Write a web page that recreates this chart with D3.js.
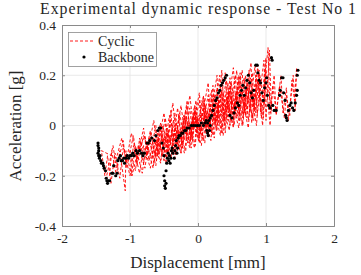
<!DOCTYPE html>
<html>
<head>
<meta charset="utf-8">
<script src="https://cdn.jsdelivr.net/npm/d3@7"></script>
<style>
body { margin: 0; background: #fff; }
text { font-family: "Liberation Serif", "DejaVu Serif", serif; fill: #262626; }
</style>
</head>
<body>
<svg id="chart" width="361" height="275"></svg>
<script>
var xTicks = [-2, -1, 0, 1, 2],
	yTicks = [-0.4, -0.2, 0, 0.2, 0.4];

// cyclic response (displacement mm, acceleration g)
var cyclic = [
	[-0.6,-0.12],[-0.5,-0.02],[-0.45,-0.11],[-0.35,0.0],[-0.3,-0.1],[-0.2,0.03],[-0.15,-0.07],[-0.05,0.06],[0.0,-0.05],[0.1,0.09],
	[0.12,-0.02],[0.22,0.12],[0.25,0.0],[0.35,0.14],[0.38,0.02],[0.48,0.16],[0.5,0.04],[0.6,0.18],
	[0.55,0.06],[0.45,0.13],[0.4,0.0],[0.3,0.1],[0.28,-0.02],[0.18,0.07],[0.15,-0.04],[0.05,0.05],[0.02,-0.07],[-0.08,0.03],
	[-0.12,-0.09],[-0.22,0.0],[-0.25,-0.11],[-0.35,-0.03],[-0.4,-0.13],[-0.5,-0.05],[-0.55,-0.14],[-0.7,-0.07],
	[-0.65,-0.15],[-0.55,-0.03],[-0.48,-0.12],[-0.4,0.02],[-0.33,-0.08],[-0.27,0.05],[-0.2,-0.06],[-0.12,0.07],[-0.08,-0.04],[0.02,0.1],
	[0.05,-0.02],[0.15,0.12],[0.18,0.01],[0.28,0.15],[0.3,0.03],[0.42,0.18],[0.45,0.05],[0.55,0.2],[0.58,0.07],[0.68,0.19],
	[0.7,0.06],[0.8,0.21],[0.82,0.08],[0.9,0.2],
	[0.85,0.05],[0.75,0.15],[0.72,0.03],[0.62,0.14],[0.6,0.02],[0.5,0.12],[0.47,0.0],[0.38,0.1],[0.35,-0.03],[0.25,0.08],
	[0.22,-0.04],[0.12,0.05],[0.08,-0.06],[-0.02,0.03],[-0.05,-0.09],[-0.15,0.01],[-0.18,-0.1],[-0.28,-0.02],[-0.32,-0.12],[-0.42,-0.04],
	[-0.47,-0.15],[-0.58,-0.06],[-0.62,-0.16],[-0.72,-0.05],[-0.78,-0.17],[-0.88,-0.08],[-0.92,-0.18],[-1.0,-0.1],
	[-0.97,-0.2],[-0.85,-0.06],[-0.8,-0.15],[-0.7,-0.02],[-0.63,-0.12],[-0.55,0.01],[-0.5,-0.1],[-0.42,0.04],[-0.37,-0.07],[-0.3,0.07],
	[-0.25,-0.05],[-0.17,0.08],[-0.1,-0.03],[-0.03,0.1],[0.0,-0.01],[0.08,0.12],[0.1,0.0],[0.2,0.14],[0.22,0.02],[0.32,0.2],
	[0.34,0.04],[0.44,0.17],[0.47,0.03],[0.57,0.22],[0.6,0.04],[0.7,0.2],[0.74,0.02],[0.84,0.24],[0.87,0.04],[0.97,0.26],
	[1.0,0.02],[1.05,0.3],
	[1.08,0.06],[1.0,0.22],[0.95,0.0],[0.88,0.18],[0.8,0.03],[0.72,0.16],[0.65,0.0],[0.55,0.13],[0.52,-0.01],[0.42,0.11],
	[0.37,-0.04],[0.27,0.09],[0.24,-0.05],[0.14,0.06],[0.1,-0.07],[0.0,0.04],[-0.04,-0.08],[-0.14,0.02],[-0.2,-0.11],[-0.3,-0.01],
	[-0.34,-0.13],[-0.45,-0.03],[-0.5,-0.14],[-0.6,-0.05],[-0.66,-0.17],[-0.76,-0.07],[-0.82,-0.19],[-0.92,-0.08],[-0.98,-0.2],[-1.06,-0.1],
	[-1.07,-0.26],[-1.15,-0.1],[-1.2,-0.2],[-1.27,-0.1],[-1.3,-0.2],
	[-1.35,-0.21],[-1.25,-0.08],[-1.2,-0.17],[-1.1,-0.06],[-1.05,-0.17],[-0.95,-0.04],[-0.9,-0.14],[-0.8,-0.01],[-0.75,-0.12],[-0.65,0.02],
	[-0.6,-0.09],[-0.5,0.05],[-0.45,-0.06],[-0.37,0.09],[-0.32,-0.04],[-0.25,0.08],[-0.2,-0.02],[-0.12,0.12],[-0.07,0.0],[0.02,0.13],
	[0.05,0.02],[0.15,0.17],[0.18,0.03],[0.28,0.2],[0.3,0.05],[0.4,0.21],[0.43,0.06],[0.52,0.23],[0.56,0.08],[0.65,0.22],
	[0.68,0.05],[0.78,0.25],[0.8,0.07],[0.9,0.22],[0.93,0.03],[1.03,0.31],[1.06,0.05],[1.12,0.2],[1.15,0.04],[1.22,0.2],
	[1.25,0.05],[1.3,0.15],[1.33,0.02],[1.4,0.2],[1.43,0.06],[1.45,0.23],
	[1.42,0.1],[1.38,0.18],[1.35,0.04],[1.3,0.12],[1.27,0.03],[1.2,0.16],[1.15,0.05],[1.1,0.16],[1.06,0.0],[1.0,0.18],
	[0.96,0.03],[0.9,0.15],[0.86,0.0],[0.78,0.14],[0.74,-0.01],[0.64,0.12],[0.6,-0.01],[0.5,0.1],[0.46,-0.02],[0.36,0.08],
	[0.33,-0.04],[0.23,0.07],[0.19,-0.06],[0.09,0.04],[0.05,-0.08],[-0.05,0.03],[-0.1,-0.09],[-0.2,0.0],[-0.25,-0.11],[-0.35,-0.02],
	[-0.4,-0.13],[-0.5,-0.04],[-0.55,-0.15],[-0.64,-0.06],[-0.7,-0.17],[-0.8,-0.08],[-0.86,-0.19],[-0.95,-0.08],[-1.0,-0.2],[-1.1,-0.09],
	[-1.15,-0.21],[-1.22,-0.11],[-1.28,-0.23],[-1.33,-0.12],[-1.37,-0.2],[-1.42,-0.1],
	[-1.2,-0.13],[-1.12,-0.05],[-1.05,-0.14],[-0.98,-0.03],[-0.9,-0.12],[-0.78,-0.04],[-0.72,-0.14],[-0.62,0.0],[-0.58,-0.11],[-0.48,0.03],
	[-0.43,-0.08],[-0.34,0.05],[-0.28,-0.06],[-0.18,0.06],[-0.14,-0.05],[-0.05,0.08],[-0.02,-0.03],[0.06,0.1],[0.12,-0.02],[0.2,0.11],
	[0.26,0.01],[0.33,0.16],[0.38,0.03],[0.46,0.15],[0.52,0.02],[0.6,0.2],[0.64,0.04],[0.73,0.18],[0.76,0.05],[0.86,0.2],
	[0.82,0.02],[0.7,0.14],[0.66,0.0],[0.56,0.11],[0.5,0.01],[0.41,0.12],[0.36,-0.01],[0.26,0.11],[0.2,-0.03],[0.11,0.08],
	[0.06,-0.05],[-0.03,0.05],[-0.08,-0.06],[-0.18,0.03],[-0.22,-0.08],[-0.32,0.01],[-0.37,-0.1],[-0.46,-0.01],[-0.52,-0.12],[-0.6,-0.03],
	[-0.68,-0.13],[-0.8,-0.04],
	[-0.9,-0.16],[-0.86,-0.05],[-0.76,-0.13],[-0.7,-0.03],[-0.61,-0.14],[-0.56,0.0],[-0.47,-0.13],[-0.4,0.06],[-0.36,-0.11],[-0.28,0.04],
	[-0.23,-0.09],[-0.16,0.1],[-0.11,-0.06],[-0.04,0.07],[0.01,-0.06],[0.09,0.11],[0.14,-0.03],[0.22,0.16],[0.27,-0.02],[0.35,0.22],
	[0.4,-0.03],[0.47,0.19],[0.53,0.0],[0.62,0.21],[0.66,0.03],[0.75,0.22],[0.79,0.01],[0.88,0.24],[0.92,0.05],[1.0,0.27],
	[0.97,0.08],[0.91,0.2],[0.84,0.06],[0.77,0.19],[0.7,0.04],[0.63,0.17],[0.57,0.03],[0.49,0.17],[0.44,0.02],[0.37,0.13],
	[0.31,0.0],[0.24,0.12],[0.17,-0.02],[0.1,0.07],[0.03,-0.04],[-0.06,0.05],[-0.12,-0.07],[-0.21,0.04],[-0.26,-0.09],[-0.36,0.02],
	[-0.42,-0.1],[-0.52,0.0],[-0.57,-0.12],[-0.66,-0.04]
];

// backbone points
var backbone = [
	[-1.47,-0.07],[-1.47,-0.08],[-1.46,-0.09],[-1.46,-0.10],[-1.47,-0.11],[-1.46,-0.12],[-1.45,-0.13],[-1.44,-0.12],[-1.43,-0.14],[-1.42,-0.15],
	[-1.40,-0.15],[-1.39,-0.16],[-1.38,-0.17],[-1.36,-0.18],[-1.35,-0.21],[-1.34,-0.22],[-1.33,-0.23],[-1.32,-0.22],[-1.30,-0.22],
	[-1.27,-0.19],[-1.25,-0.19],[-1.24,-0.16],[-1.21,-0.2],[-1.19,-0.19],[-1.18,-0.14],[-1.16,-0.13],[-1.14,-0.12],[-1.13,-0.14],[-1.11,-0.14],
	[-1.09,-0.13],[-1.08,-0.15],[-1.06,-0.13],[-1.04,-0.12],[-1.02,-0.13],[-1.0,-0.12],[-0.98,-0.12],[-0.96,-0.11],[-0.94,-0.12],[-0.91,-0.10],
	[-0.89,-0.11],[-0.86,-0.10],[-0.83,-0.11],[-0.81,-0.12],[-0.79,-0.11],[-0.75,-0.07],[-0.73,-0.07],[-0.71,-0.06],[-0.68,-0.05],[-0.64,-0.06],
	[-0.62,-0.04],[-0.59,-0.02],[-0.57,-0.01],[-0.55,-0.01],[-0.53,-0.07],[-0.51,-0.09],[-0.5,-0.12],[-0.5,-0.2],[-0.49,-0.22],[-0.49,-0.24],
	[-0.48,-0.25],[-0.47,-0.23],[-0.47,-0.18],[-0.46,-0.15],[-0.45,-0.13],[-0.44,-0.11],[-0.43,-0.14],[-0.42,-0.12],[-0.41,-0.15],[-0.40,-0.13],
	[-0.39,-0.10],[-0.38,-0.09],[-0.37,-0.11],[-0.35,-0.13],[-0.34,-0.1],[-0.33,-0.08],[-0.32,-0.06],[-0.31,-0.11],[-0.30,-0.09],[-0.29,-0.05],
	[-0.28,-0.04],[-0.26,-0.04],[-0.24,-0.03],[-0.22,-0.03],[-0.2,-0.02],[-0.18,-0.02],[-0.16,-0.01],[-0.13,-0.01],[-0.1,0.0],[-0.07,0.0],
	[-0.04,0.0],[-0.01,0.0],[0.02,0.0],[0.05,0.01],[0.08,0.0],[0.1,0.01],[0.12,0.02],[0.14,0.01],[0.16,0.02],[0.18,0.03],
	[0.13,-0.02],[0.14,-0.03],[0.15,-0.04],[0.17,-0.02],[0.18,0.0],[0.2,0.04],[0.22,0.06],[0.24,0.08],[0.26,0.1],[0.28,0.11],
	[0.3,0.13],[0.32,0.14],[0.34,0.16],[0.36,0.17],[0.38,0.18],[0.40,0.19],[0.42,0.2],
	[0.47,0.04],[0.5,0.03],[0.53,0.05],[0.55,0.07],[0.58,0.09],[0.6,0.08],[0.62,0.12],[0.64,0.14],[0.66,0.16],[0.68,0.12],
	[0.7,0.15],[0.72,0.18],[0.74,0.2],[0.76,0.17],[0.78,0.13],[0.8,0.11],[0.82,0.14],[0.85,0.24],[0.87,0.24],[0.88,0.21],
	[0.9,0.18],[0.92,0.17],[0.94,0.13],[0.96,0.1],[0.98,0.15],[1.0,0.17],[1.01,0.19],[1.02,0.12],[1.04,0.08],[1.06,0.07],
	[1.08,0.27],[1.09,0.26],[1.1,0.08],[1.12,0.06],[1.15,0.06],[1.2,0.12],[1.21,0.14],[1.23,0.19],[1.25,0.19],[1.26,0.13],
	[1.28,0.1],[1.29,0.04],[1.3,0.03],[1.31,0.02],[1.33,0.06],[1.35,0.08],[1.37,0.09],[1.39,0.07],[1.41,0.06],[1.43,0.09],
	[1.45,0.12],[1.46,0.14],[1.46,0.2],[1.47,0.22]
];

var svg = d3.select("#chart"),
	pLeft = 62, pRight = 334, pTop = 25, pBottom = 226;

var x = d3.scaleLinear().domain([-2, 2]).range([pLeft, pRight]),
	y = d3.scaleLinear().domain([-0.4, 0.4]).range([pBottom, pTop]);

// grid
svg.append("g").selectAll("line").data(xTicks.slice(1, -1)).enter().append("line")
	.attr("x1", function (d) { return x(d); }).attr("x2", function (d) { return x(d); })
	.attr("y1", pTop).attr("y2", pBottom)
	.attr("stroke", "#e3e3e3").attr("stroke-width", 0.8);
svg.append("g").selectAll("line").data(yTicks.slice(1, -1)).enter().append("line")
	.attr("y1", function (d) { return y(d); }).attr("y2", function (d) { return y(d); })
	.attr("x1", pLeft).attr("x2", pRight)
	.attr("stroke", "#e3e3e3").attr("stroke-width", 0.8);

var line = d3.line()
	.x(function (d) { return x(d[0]); })
	.y(function (d) { return y(d[1]); });

svg.append("path")
	.datum(cyclic)
	.attr("d", line)
	.attr("fill", "none")
	.attr("stroke", "#ff0000")
	.attr("stroke-width", 0.9)
	.attr("stroke-dasharray", "3,2");

svg.append("g").selectAll("circle").data(backbone).enter().append("circle")
	.attr("cx", function (d) { return x(d[0]); })
	.attr("cy", function (d) { return y(d[1]); })
	.attr("r", 1.6)
	.attr("fill", "#000");

// axes box
function fmt(d) { return d === 0 ? "0" : (d < 0 ? "-" : "") + (Number.isInteger(d) ? Math.abs(d) : Math.abs(d).toFixed(1)); }
var xAxis = d3.axisBottom(x).tickValues(xTicks).tickSize(-3).tickPadding(7).tickFormat(fmt);
var yAxis = d3.axisLeft(y).tickValues(yTicks).tickSize(-3).tickPadding(6).tickFormat(fmt);
svg.append("g").attr("transform", "translate(0," + pBottom + ")").call(xAxis);
svg.append("g").attr("transform", "translate(" + pLeft + ",0)").call(yAxis);
svg.append("g").attr("transform", "translate(0," + pTop + ")").call(d3.axisTop(x).tickValues(xTicks).tickSize(-3).tickFormat(""));
svg.append("g").attr("transform", "translate(" + pRight + ",0)").call(d3.axisRight(y).tickValues(yTicks).tickSize(-3).tickFormat(""));
svg.selectAll(".domain").attr("stroke", "#8a8a8a");
svg.selectAll(".tick line").attr("stroke", "#8a8a8a");
svg.selectAll(".tick text").attr("font-family", "Liberation Serif").attr("font-size", "13.5px").attr("fill", "#262626");

svg.append("text").attr("x", 198).attr("y", 14.2).attr("text-anchor", "middle")
	.attr("font-size", "15.8px").attr("textLength", 316).attr("lengthAdjust", "spacing")
	.text("Experimental dynamic response - Test No 1");
svg.append("text").attr("x", 198).attr("y", 268).attr("text-anchor", "middle")
	.attr("font-size", "17px").text("Displacement [mm]");
svg.append("text").attr("transform", "translate(21,126) rotate(-90)").attr("text-anchor", "middle")
	.attr("font-size", "17px").text("Acceleration [g]");

// legend
var lg = svg.append("g");
lg.append("rect").attr("x", 68.5).attr("y", 32.5).attr("width", 88).attr("height", 34)
	.attr("fill", "#fff").attr("stroke", "#8a8a8a").attr("stroke-width", 0.8);
lg.append("line").attr("x1", 70).attr("x2", 95).attr("y1", 41).attr("y2", 41)
	.attr("stroke", "#ff0000").attr("stroke-width", 0.9).attr("stroke-dasharray", "3,2");
lg.append("circle").attr("cx", 84).attr("cy", 57).attr("r", 1.6).attr("fill", "#000");
lg.append("text").attr("x", 98).attr("y", 46).attr("font-size", "14px").text("Cyclic");
lg.append("text").attr("x", 98).attr("y", 62).attr("font-size", "14px").text("Backbone");
</script>
</body>
</html>
